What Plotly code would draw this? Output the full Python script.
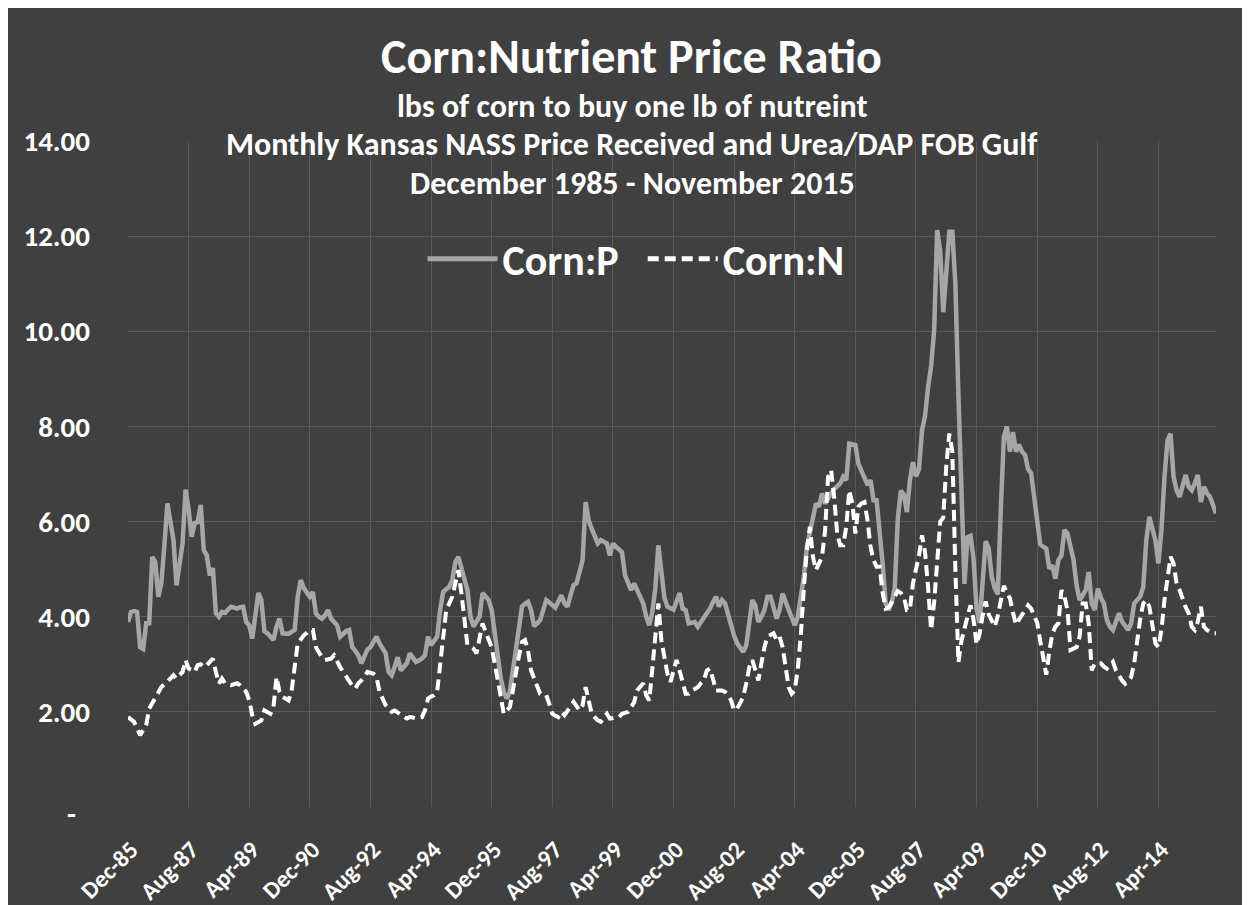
import plotly.graph_objects as go

MONTHS = ["Jan", "Feb", "Mar", "Apr", "May", "Jun", "Jul", "Aug", "Sep", "Oct", "Nov", "Dec"]
# Monthly categories Dec-85 .. Nov-15
CATEGORIES = []
for i in range(360):
    mi = (11 + i) % 12
    yr = (1985 + (11 + i) // 12) % 100
    CATEGORIES.append(f"{MONTHS[mi]}-{yr:02d}")

TICK_LABELS = ["Dec-85", "Aug-87", "Apr-89", "Dec-90", "Aug-92", "Apr-94", "Dec-95", "Aug-97",
               "Apr-99", "Dec-00", "Aug-02", "Apr-04", "Dec-05", "Aug-07", "Apr-09", "Dec-10",
               "Aug-12", "Apr-14"]

Y_TICKS = [0, 2, 4, 6, 8, 10, 12, 14]
Y_TICK_TEXT = ["", "2.00", "4.00", "6.00", "8.00", "10.00", "12.00", "14.00"]
ZERO_LABEL = "-"

# Corn:P  (each row Dec..Nov)
CORN_P = [
    3.89, 4.10, 4.12, 4.10, 3.36, 3.32, 3.86, 3.86, 5.26, 5.15, 4.42, 4.70,
    5.50, 6.38, 6.00, 5.61, 4.66, 5.10, 5.54, 6.67, 6.26, 5.68, 5.97, 5.99,
    6.35, 5.40, 5.29, 4.87, 5.02, 4.07, 4.00, 4.10, 4.08, 4.15, 4.21, 4.19,
    4.17, 4.20, 4.21, 3.89, 3.82, 3.54, 4.10, 4.50, 4.35, 3.70, 3.65, 3.58,
    3.51, 3.79, 3.96, 3.65, 3.64, 3.64, 3.68, 3.72, 4.43, 4.77, 4.60, 4.52,
    4.42, 4.52, 4.07, 4.00, 3.96, 4.03, 4.14, 3.96, 3.88, 3.82, 3.58, 3.65,
    3.70, 3.72, 3.36, 3.28, 3.19, 3.02, 3.18, 3.31, 3.36, 3.48, 3.58, 3.44,
    3.33, 3.23, 2.84, 2.77, 2.95, 3.15, 2.87, 2.95, 3.02, 3.23, 3.15, 3.05,
    3.08, 3.12, 3.19, 3.58, 3.40, 3.50, 3.58, 4.14, 4.52, 4.58, 4.63, 4.77,
    5.15, 5.26, 5.05, 4.80, 4.56, 4.00, 3.79, 3.90, 4.00, 4.50, 4.42, 4.35,
    4.14, 3.65, 3.02, 2.70, 2.42, 2.28, 2.42, 2.87, 3.25, 3.65, 4.21, 4.27,
    4.31, 4.14, 3.80, 3.86, 3.93, 4.14, 4.35, 4.30, 4.24, 4.19, 4.32, 4.45,
    4.28, 4.21, 4.45, 4.66, 4.70, 4.95, 5.19, 6.41, 6.03, 5.85, 5.70, 5.54,
    5.61, 5.58, 5.54, 5.29, 5.54, 5.47, 5.40, 5.36, 4.87, 4.73, 4.56, 4.70,
    4.56, 4.42, 4.28, 4.00, 3.82, 4.10, 4.60, 5.50, 4.84, 4.40, 4.21, 4.17,
    4.15, 4.32, 4.50, 4.17, 4.14, 3.86, 3.88, 3.89, 3.79, 3.88, 3.96, 4.07,
    4.17, 4.30, 4.42, 4.21, 4.35, 4.28, 4.05, 3.79, 3.60, 3.44, 3.35, 3.26,
    3.40, 3.86, 4.35, 4.24, 3.89, 4.00, 4.14, 4.42, 4.42, 4.20, 3.96, 4.14,
    4.49, 4.31, 4.15, 4.00, 3.82, 4.00, 4.40, 4.84, 5.47, 5.75, 6.05, 6.38,
    6.31, 6.59, 6.38, 6.50, 6.59, 6.68, 6.75, 6.80, 6.94, 6.87, 7.64, 7.62,
    7.61, 7.22, 7.08, 6.94, 6.77, 6.87, 6.45, 6.45, 5.82, 5.12, 4.28, 4.14,
    4.30, 4.60, 6.05, 6.65, 6.57, 6.20, 6.87, 7.25, 6.95, 7.10, 7.92, 8.22,
    8.83, 9.27, 10.02, 12.13, 11.68, 10.40, 11.23, 12.09, 12.09, 11.00, 8.67, 6.42,
    4.69, 5.67, 5.70, 5.22, 4.17, 3.87, 4.92, 5.59, 5.44, 4.84, 4.60, 4.47,
    6.27, 7.78, 8.00, 7.47, 7.88, 7.47, 7.62, 7.47, 7.40, 7.10, 7.02, 6.57,
    6.12, 5.52, 5.47, 5.43, 5.01, 5.08, 4.80, 5.19, 5.29, 5.82, 5.75, 5.45,
    5.19, 4.66, 4.35, 4.45, 4.56, 4.94, 4.28, 4.14, 4.59, 4.40, 4.28, 3.93,
    3.79, 3.72, 3.90, 4.07, 3.90, 3.79, 3.72, 3.86, 4.28, 4.35, 4.42, 4.63,
    5.61, 6.10, 5.85, 5.61, 5.12, 5.82, 6.94, 7.71, 7.85, 6.94, 6.66, 6.52,
    6.75, 6.98, 6.73, 6.66, 6.80, 6.98, 6.41, 6.73, 6.60, 6.52, 6.35, 6.17,
]

# Corn:N  (each row Dec..Nov)
CORN_N = [
    1.89, 1.84, 1.79, 1.65, 1.51, 1.62, 1.72, 2.07, 2.18, 2.28, 2.42, 2.52,
    2.58, 2.63, 2.70, 2.77, 2.70, 2.77, 2.84, 3.09, 2.91, 2.88, 2.84, 2.98,
    3.00, 2.94, 2.98, 3.05, 3.12, 2.84, 2.60, 2.70, 2.60, 2.58, 2.56, 2.58,
    2.60, 2.56, 2.50, 2.42, 2.24, 1.93, 1.75, 1.78, 1.82, 2.03, 2.00, 1.96,
    2.10, 2.73, 2.42, 2.31, 2.28, 2.24, 2.45, 3.02, 3.44, 3.52, 3.61, 3.66,
    3.72, 3.72, 3.36, 3.25, 3.15, 3.09, 3.10, 3.12, 3.19, 3.05, 2.94, 2.84,
    2.73, 2.63, 2.55, 2.49, 2.60, 2.66, 2.73, 2.84, 2.82, 2.80, 2.73, 2.42,
    2.28, 2.14, 2.07, 2.00, 2.03, 1.98, 1.93, 1.90, 1.86, 1.89, 1.88, 1.86,
    1.88, 1.89, 2.03, 2.28, 2.32, 2.35, 2.42, 3.02, 3.65, 4.14, 4.28, 4.42,
    4.70, 4.98, 4.50, 3.90, 3.40, 3.36, 3.33, 3.23, 3.58, 3.86, 3.68, 3.52,
    3.36, 3.02, 2.66, 2.31, 1.96, 2.03, 2.10, 2.45, 2.87, 3.17, 3.47, 3.51,
    3.29, 2.87, 2.70, 2.52, 2.38, 2.36, 2.35, 2.17, 1.96, 1.92, 1.89, 2.00,
    1.93, 2.02, 2.10, 2.21, 2.12, 2.03, 2.14, 2.52, 2.24, 1.96, 1.89, 1.82,
    1.79, 1.88, 1.96, 1.86, 1.86, 1.88, 1.89, 1.96, 1.98, 2.00, 2.10, 2.20,
    2.45, 2.52, 2.60, 2.35, 2.24, 2.90, 3.70, 4.28, 3.50, 3.10, 2.80, 2.63,
    2.85, 3.09, 2.87, 2.60, 2.38, 2.38, 2.45, 2.48, 2.52, 2.60, 2.66, 2.87,
    2.91, 2.70, 2.45, 2.45, 2.45, 2.42, 2.35, 2.24, 2.03, 2.07, 2.21, 2.31,
    2.60, 2.94, 3.09, 2.87, 2.66, 3.02, 3.36, 3.58, 3.62, 3.65, 3.51, 3.58,
    3.36, 2.87, 2.52, 2.38, 2.45, 2.90, 3.60, 4.60, 5.40, 5.89, 5.26, 4.98,
    5.12, 5.26, 5.80, 6.94, 7.08, 6.52, 5.75, 5.50, 5.50, 5.89, 6.66, 6.38,
    5.75, 6.31, 6.38, 6.41, 6.03, 5.47, 5.19, 5.05, 5.05, 4.50, 4.17, 4.20,
    4.30, 4.42, 4.54, 4.50, 4.42, 4.14, 4.15, 4.70, 5.00, 5.29, 5.71, 5.35,
    4.62, 3.72, 4.30, 5.10, 6.00, 6.08, 7.17, 7.85, 7.47, 5.00, 3.04, 3.49,
    3.79, 4.00, 4.24, 3.94, 3.42, 3.64, 4.02, 4.32, 4.05, 3.90, 3.79, 4.02,
    4.32, 4.65, 4.50, 4.39, 4.09, 3.83, 3.94, 4.05, 4.17, 4.24, 4.17, 4.00,
    3.87, 3.49, 3.11, 2.78, 3.27, 3.64, 3.79, 3.86, 4.56, 4.42, 4.14, 3.30,
    3.33, 3.36, 3.58, 4.28, 4.28, 3.86, 2.87, 3.02, 3.02, 3.02, 2.95, 2.91,
    2.98, 3.05, 2.87, 2.75, 2.66, 2.59, 2.65, 2.73, 3.02, 3.51, 3.96, 4.28,
    4.35, 4.21, 3.86, 3.44, 3.36, 3.72, 4.35, 4.84, 5.26, 5.12, 4.70, 4.56,
    4.35, 4.20, 4.07, 3.79, 3.72, 3.90, 4.21, 3.79, 3.72, 3.68, 3.65, 3.65,
]

TITLE = "Corn:Nutrient Price Ratio"
SUBTITLES = ["lbs of corn to buy one lb of nutreint",
             "Monthly Kansas NASS Price Received and Urea/DAP FOB Gulf",
             "December 1985 - November 2015"]
SERIES_NAMES = ["Corn:P", "Corn:N"]

FONT = "Carlito, Lato, sans-serif"
BG = "#404040"
GRID = "#595959"

W, H = 1250, 905
OFF = 8  # page body margin offset of the figure on screen
ML, MR, MT, MB = 120, 42, 133, 106
PW, PH = W - ML - MR, H - MT - MB


def px_x(sx):
    return (sx - OFF - ML) / PW


def px_y(sy):
    return (H - MB - (sy - OFF)) / PH


fig = go.Figure()
fig.add_trace(go.Scatter(x=CATEGORIES, y=CORN_P, mode="lines",
                         name=SERIES_NAMES[0] + "\u00a0\u00a0",
                         line=dict(color="#a6a6a6", width=4.5)))
fig.add_trace(go.Scatter(x=CATEGORIES, y=CORN_N, mode="lines", name=SERIES_NAMES[1],
                         line=dict(color="#ffffff", width=4, dash="11px,6px")))

annotations = [dict(text=TITLE, x=px_x(631), y=px_y(57), xref="paper", yref="paper",
                    showarrow=False, xanchor="center", yanchor="middle",
                    font=dict(family=FONT, size=48, color="white", weight="bold"))]
for txt, cy in zip(SUBTITLES, [106, 145, 183]):
    annotations.append(dict(text=txt, x=px_x(632), y=px_y(cy), xref="paper", yref="paper",
                            showarrow=False, xanchor="center", yanchor="middle",
                            font=dict(family=FONT, size=32, color="white", weight="bold")))
# zero tick label drawn as Excel's accounting dash
annotations.append(dict(text=ZERO_LABEL, x=px_x(71), y=px_y(814), xref="paper", yref="paper",
                        showarrow=False, xanchor="center", yanchor="middle",
                        font=dict(family=FONT, size=29, color="white", weight="bold")))

fig.update_layout(
    width=W, height=H,
    margin=dict(l=ML, r=MR, t=MT, b=MB, pad=0, autoexpand=False),
    paper_bgcolor=BG, plot_bgcolor=BG,
    font=dict(family=FONT, color="white", weight="bold"),
    annotations=annotations,
    showlegend=True,
    legend=dict(orientation="h", x=px_x(636), y=px_y(259), xanchor="center", yanchor="middle",
                font=dict(family=FONT, size=42, color="white", weight="bold"),
                bgcolor="rgba(0,0,0,0)", itemwidth=70, itemsizing="constant"),
    xaxis=dict(type="category", range=[0, 359], showgrid=True, gridcolor=GRID, gridwidth=1,
               tickmode="array", tickvals=TICK_LABELS, ticktext=TICK_LABELS, tickangle=-45,
               tickfont=dict(family=FONT, size=24, color="white", weight="bold"),
               ticks="", showline=False, zeroline=False, automargin=False,
               ticklabelstandoff=23, ticklabelshift=3),
    yaxis=dict(range=[0, 14], showgrid=True, gridcolor=GRID, gridwidth=1,
               tickmode="array", tickvals=Y_TICKS, ticktext=Y_TICK_TEXT,
               tickfont=dict(family=FONT, size=29, color="white", weight="bold"),
               ticks="", showline=False, zeroline=False, automargin=False,
               ticklabelstandoff=37),
)

fig.write_html("out.html")
